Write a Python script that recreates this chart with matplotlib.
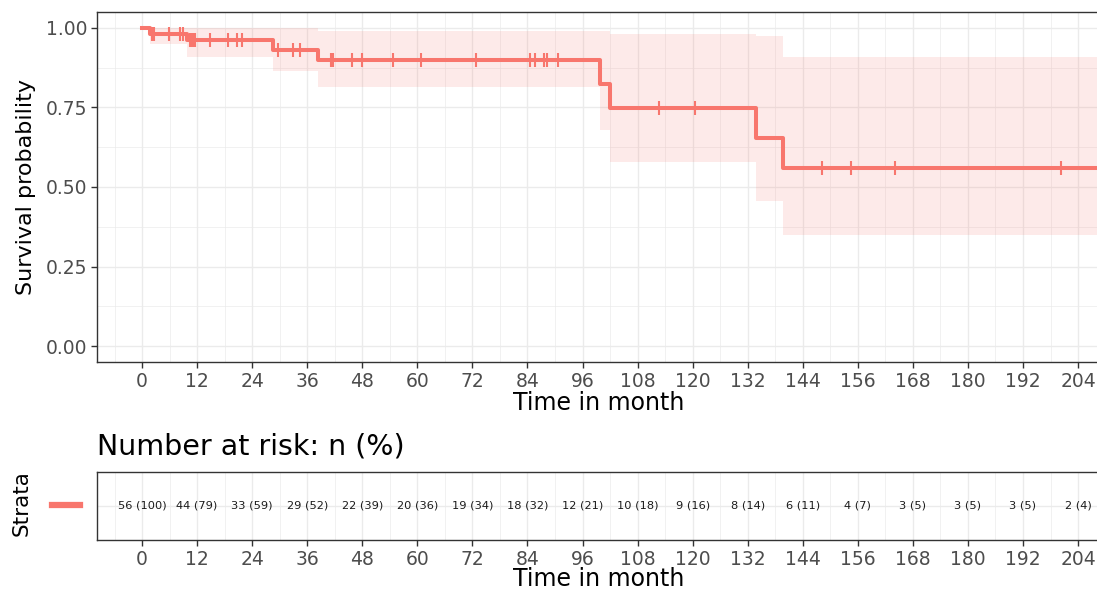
import numpy as np
import matplotlib.pyplot as plt
from matplotlib.lines import Line2D

# Kaplan-Meier estimate
event_times = [1.7, 9.8, 28.6, 38.4, 99.9, 101.9, 133.8, 139.6]
surv = [0.982, 0.963, 0.931, 0.898, 0.823, 0.748, 0.655, 0.561]
upper = [1.0, 1.0, 1.0, 0.99, 0.99, 0.98, 0.975, 0.91]
lower = [0.948, 0.91, 0.865, 0.815, 0.68, 0.58, 0.455, 0.35]
end_time = 212

censor_times = [2.1, 2.5, 5.9, 8.3, 8.9, 10.5, 10.8, 11.2, 11.6, 14.8, 18.7, 20.7, 21.7,
                29.7, 32.9, 34.5, 41.2, 41.6, 45.7, 47.9, 54.8, 60.7, 72.7,
                84.6, 85.6, 87.5, 88.2, 90.7, 112.7, 120.5, 148.3, 154.5, 164.2, 200.3]

# Number at risk table
risk_times = list(range(0, 205, 12))
risk_labels = ['56 (100)', '44 (79)', '33 (59)', '29 (52)', '22 (39)', '20 (36)',
               '19 (34)', '18 (32)', '12 (21)', '10 (18)', '9 (16)', '8 (14)',
               '6 (11)', '4 (7)', '3 (5)', '3 (5)', '3 (5)', '2 (4)']

red = '#F8766D'
grid_col = '#EBEBEB'
dark = '#333333'
tick_col = '#4D4D4D'
xlim = (-9.82, 209.0)

fig = plt.figure(figsize=(10.97, 5.89), dpi=100)
W, H = 1097, 589

def frac(l, t, r, b):
    return [l / W, 1 - b / H, (r - l) / W, (b - t) / H]

def style(ax):
    for sp in ax.spines.values():
        sp.set_color(dark)
        sp.set_linewidth(1.0)
    ax.tick_params(which='major', colors=dark, labelcolor=tick_col, labelsize=13.5,
                   length=4, width=1, pad=3)
    ax.tick_params(which='minor', length=0)
    ax.grid(which='major', color=grid_col, lw=1.0)
    ax.grid(which='minor', color=grid_col, lw=0.5)
    ax.set_axisbelow(True)
    ax.set_xlim(*xlim)
    ax.set_xticks(risk_times)
    ax.set_xticks(np.arange(-6, 210, 12), minor=True)

# --- survival curve ---
ax = fig.add_axes(frac(97, 12, 1101, 362))
style(ax)
t = [0] + event_times + [end_time]
s = [1.0] + surv
hi = [1.0] + upper
lo = [1.0] + lower
ax.fill_between(t, lo + [lo[-1]], hi + [hi[-1]], step='post', color=red, alpha=0.15, lw=0)
ax.step(t, s + [s[-1]], where='post', color=red, lw=2.9)
cy = [s[np.searchsorted(event_times, c, side='right')] for c in censor_times]
ax.plot(censor_times, cy, ls='none', marker='|', ms=10, mew=1.5, color=red)
ax.set_ylim(-0.05, 1.05)
ax.set_yticks([0, 0.25, 0.5, 0.75, 1.0])
ax.set_yticklabels(['0.00', '0.25', '0.50', '0.75', '1.00'])
ax.set_yticks(np.arange(0.125, 1.0, 0.25), minor=True)
ax.set_xlabel('Time in month', fontsize=17, labelpad=0)
ax.set_ylabel('Survival probability', fontsize=16, labelpad=7)

# --- risk table ---
rt = fig.add_axes(frac(97, 472, 1101, 540))
style(rt)
rt.set_ylim(0, 1)
rt.set_yticks([0.5])
rt.set_yticklabels([])
rt.tick_params(axis='y', length=0)
for x, lab in zip(risk_times, risk_labels):
    rt.text(x, 0.5, lab, ha='center', va='center', fontsize=8.2, color='#1a1a1a')
rt.set_xlabel('Time in month', fontsize=17, labelpad=-1.5)

fig.text(97 / W, 1 - 447 / H, 'Number at risk: n (%)', fontsize=20.5, va='center', ha='left')
fig.text(22 / W, 1 - 503 / H, 'Strata', fontsize=15.5, rotation=90, va='center', ha='center')
fig.add_artist(Line2D([52 / W, 80 / W], [1 - 505 / H, 1 - 505 / H], color=red, lw=4.5,
                      transform=fig.transFigure))

fig.savefig('out.png', dpi=100)
